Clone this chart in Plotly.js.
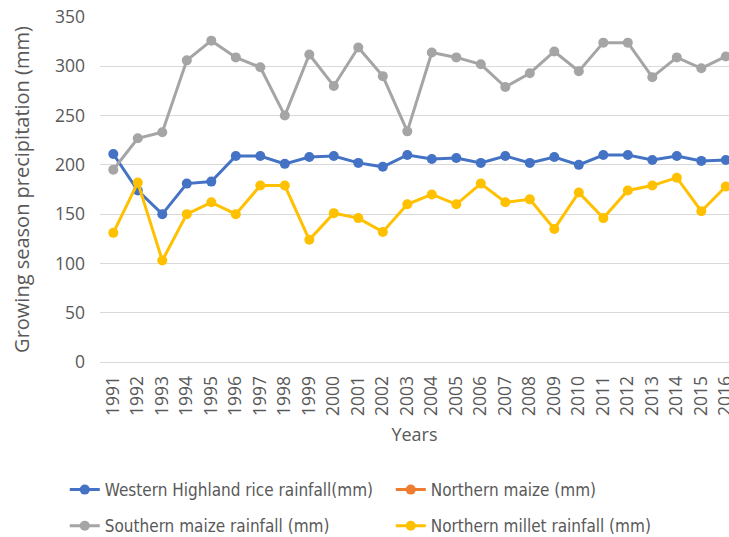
<!DOCTYPE html>
<html>
<head>
<meta charset="utf-8">
<script src="https://cdn.plot.ly/plotly-3.0.1.min.js"></script>
<style>html,body{margin:0;padding:0;background:#fff;}#chart{width:729px;height:537px;}</style>
</head>
<body>
<div id="chart"></div>
<script>
const years = ["1991","1992","1993","1994","1995","1996","1997","1998","1999","2000","2001","2002","2003","2004","2005","2006","2007","2008","2009","2010","2011","2012","2013","2014","2015","2016"];
const westernHighlandRice = [211,174,150,181,183,209,209,201,208,209,202,198,210,206,207,202,209,202,208,200,210,210,205,209,204,205];
const northernMaize = [null,null,null,null,null,null,null,null,null,null,null,null,null,null,null,null,null,null,null,null,null,null,null,null,null,null];
const southernMaize = [195,227,233,306,326,309,299,250,312,280,319,290,234,314,309,302,279,293,315,295,324,324,289,309,298,310];
const northernMillet = [131,182,103,150,162,150,179,179,124,151,146,132,160,170,160,181,162,165,135,172,146,174,179,187,153,178];
const seriesNames = ["Western Highland rice rainfall(mm)","Northern maize (mm)","Southern maize rainfall (mm)","Northern millet rainfall (mm)"];
const colors = ["#4472C4","#ED7D31","#A5A5A5","#FFC000"];
const values = [westernHighlandRice, northernMaize, southernMaize, northernMillet];
const legends = ["legend","legend","legend2","legend2"];

const traces = values.map((v,i)=>({
  type:"scatter", mode:"lines+markers", x:years, y:v, name:seriesNames[i],
  line:{color:colors[i], width:3}, marker:{color:colors[i], size:10},
  legend:legends[i], cliponaxis:false
}));

const tickFont = {family:"Open Sans, sans-serif", size:17.5, color:"#595959"};
const legFont = {family:"Liberation Sans Narrow, DejaVu Sans Condensed, sans-serif", size:17, color:"#595959"};
const layout = {
  width:729, height:537,
  margin:{l:100, r:0, t:17, b:175, autoexpand:false},
  paper_bgcolor:"#fff", plot_bgcolor:"#fff",
  xaxis:{type:"category", range:[-0.543,25.13], showgrid:false, zeroline:false, automargin:false,
    showline:true, linecolor:"#d9d9d9", linewidth:1, ticks:"", tickangle:-90,
    tickfont:tickFont, ticklabelstandoff:6,
    title:{text:"Years", font:{family:"Open Sans, sans-serif", size:18, color:"#595959"}, standoff:13}},
  yaxis:{range:[0,350], dtick:50, showgrid:true, gridcolor:"#d9d9d9", gridwidth:1, automargin:false,
    zeroline:false, showline:false, ticks:"", tickfont:tickFont, ticklabelstandoff:14,
    title:{text:"Growing season precipitation (mm)", font:{family:"Open Sans, sans-serif", size:20, color:"#595959"}, standoff:19}},
  legend:{orientation:"h", x:-0.056, xanchor:"left", y:-0.319, yanchor:"top",
    font:legFont, entrywidth:281, entrywidthmode:"pixels", bgcolor:"rgba(0,0,0,0)"},
  legend2:{orientation:"h", x:-0.056, xanchor:"left", y:-0.424, yanchor:"top",
    font:legFont, entrywidth:281, entrywidthmode:"pixels", bgcolor:"rgba(0,0,0,0)"},
  showlegend:true
};
Plotly.newPlot("chart", traces, layout, {displayModeBar:false, staticPlot:true});
</script>
</body>
</html>
